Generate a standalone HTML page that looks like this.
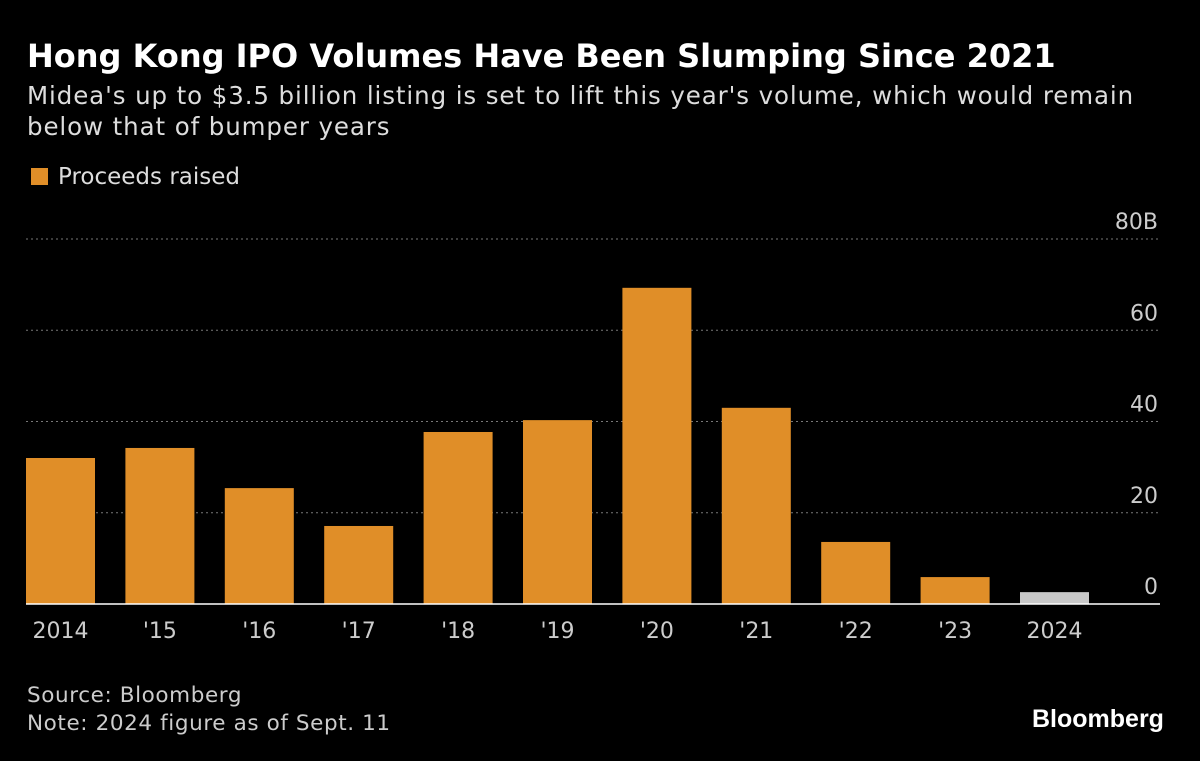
<!DOCTYPE html>
<html><head><meta charset="utf-8"><style>
body{margin:0;background:#000;width:1200px;height:761px;overflow:hidden;font-family:"DejaVu Sans",sans-serif;color:#fff}
.t{position:absolute;white-space:nowrap}
</style></head><body>
<div class="t" style="left:27px;top:37px;font-size:32px;font-weight:bold">Hong Kong IPO Volumes Have Been Slumping Since 2021</div>
<div class="t" style="left:27px;top:80px;font-size:24.5px;line-height:31px;color:#ddd;letter-spacing:0.9px">Midea's up to $3.5 billion listing is set to lift this year's volume, which would remain<br>below that of bumper years</div>
<div class="t" style="left:31px;top:164px;font-size:23px;color:#ddd"><span style="display:inline-block;width:17px;height:17px;background:#e08e28;vertical-align:-1px;margin-right:10px"></span>Proceeds raised</div>
<svg id="c" width="1200" height="761" style="position:absolute;left:0;top:0"></svg>
<div class="t" style="left:27px;top:682px;font-size:21.5px;line-height:28px;color:#ccc;letter-spacing:0.6px">Source: Bloomberg<br>Note: 2024 figure as of Sept. 11</div>
<div class="t" style="left:1032px;top:705px;font-size:25px;font-weight:bold;font-family:'Liberation Sans',sans-serif">Bloomberg</div>
<script>
const categories=["2014","'15","'16","'17","'18","'19","'20","'21","'22","'23","2024"];
const values=[32.0,34.2,25.4,17.1,37.7,40.3,69.3,43.0,13.6,5.9,2.6];
const ticks=[0,20,40,60,80];
const tickLabels=["0","20","40","60","80B"];
const svg=document.getElementById('c');const NS='http://www.w3.org/2000/svg';
const y=v=>604-v*(604-239)/80;
const x=i=>26+i*99.4;
function mk(t,a){const e=document.createElementNS(NS,t);for(const k in a)e.setAttribute(k,a[k]);svg.appendChild(e);return e;}
ticks.forEach((t,i)=>{
 if(t>0){const l=mk('line',{x1:26,x2:1160,y1:y(t),y2:y(t),stroke:'#777','stroke-dasharray':'2,3','stroke-width':1});
 
 }
 const tx=mk('text',{x:1158,y:y(t)-10,'text-anchor':'end',fill:'#ccc','font-size':22,'font-family':'DejaVu Sans'});
 tx.textContent=tickLabels[i];
 
 
});
values.forEach((v,i)=>{
 const r=mk('rect',{x:x(i),y:y(v),width:69,height:604-y(v),fill:i==values.length-1?'#c8c8c8':'#e08e28'});
 
 
 const tx=mk('text',{x:x(i)+34.5,y:638,'text-anchor':'middle',fill:'#ccc','font-size':22,'font-family':'DejaVu Sans'});
 tx.textContent=categories[i];
 
 
});
const b=mk('line',{x1:26,x2:1160,y1:604,y2:604,stroke:'#fff','stroke-width':1.5});


</script>
</body></html>
